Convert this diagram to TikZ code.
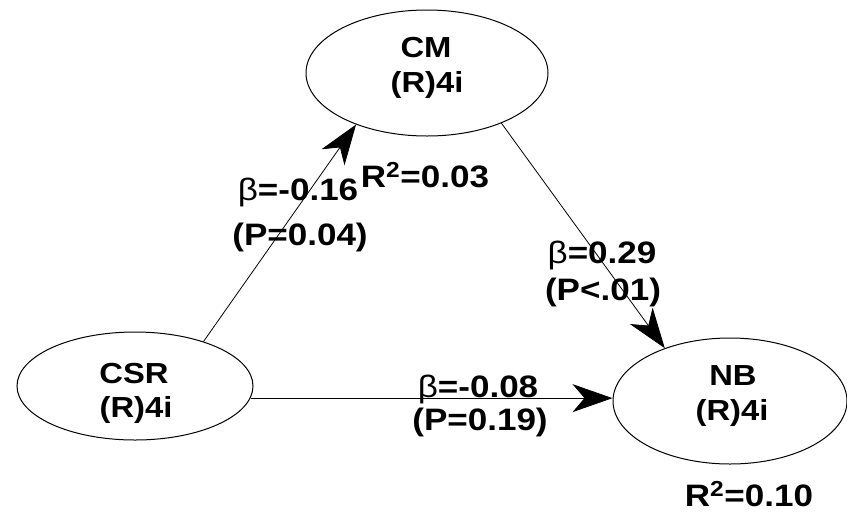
\documentclass[tikz,border=0pt]{standalone}
\usepackage{fontspec}
\usepackage{graphicx}
\setmainfont{Liberation Sans}
\usetikzlibrary{shapes.geometric,arrows.meta}
\newcommand{\stretchtxt}[1]{\scalebox{1.13}[1]{#1}}
\begin{document}
\begin{tikzpicture}[x=1pt,y=-1pt,
  lat/.style={ellipse, draw, line width=1pt, inner sep=0pt},
  txt/.style={anchor=base, inner sep=0pt, font=\fontsize{29}{34}\selectfont\bfseries},
  lbl/.style={anchor=base, inner sep=0pt, font=\fontsize{31}{34}\selectfont\bfseries},
  conn/.style={line width=0.8pt, -{Stealth[length=40pt,width=28pt,inset=12pt]}}]
\useasboundingbox[fill=white] (0,0) rectangle (847,512);
% latent variables
\node[lat, minimum width=242pt, minimum height=126pt] (cm) at (427,73) {};
\node[lat, minimum width=236pt, minimum height=108pt] (csr) at (135,386) {};
\node[lat, minimum width=234pt, minimum height=126pt] (nb) at (730,401) {};
% texts in ellipses
\node[txt] (cm1) at (426,57) {\stretchtxt{CM}};
\node[txt] (cm2) at (427,92) {\stretchtxt{(R)4i}};
\node[txt] (csr1) at (134,383) {\stretchtxt{CSR}};
\node[txt] (csr2) at (136,417) {\stretchtxt{(R)4i}};
\node[txt] (nb1) at (733,385) {\stretchtxt{NB}};
\node[txt] (nb2) at (732,420) {\stretchtxt{(R)4i}};
% connectors
\draw[conn] (csr.33.3) -- (cm.216.1);
\draw[conn] (cm.-34.4) -- (nb.141.3);
\coordinate (hstart) at (csr.-6);
\draw[conn] (hstart) -- (hstart -| nb.west);
% labels
\node[lbl] (b1) at (298,200) {\stretchtxt{{\mdseries β}=-0.16}};
\node[lbl] (p1) at (300,245) {\stretchtxt{(P=0.04)}};
\node[lbl] (r1) at (425,187) {\stretchtxt{R\textsuperscript{2}=0.03}};
\node[lbl] (b2) at (602,263) {\stretchtxt{{\mdseries β}=0.29}};
\node[lbl] (p2) at (603,300) {\stretchtxt{(P<.01)}};
\node[lbl] (b3) at (478,397) {\stretchtxt{{\mdseries β}=-0.08}};
\node[lbl] (p3) at (480,430) {\stretchtxt{(P=0.19)}};
\node[lbl] (r2) at (749,506) {\stretchtxt{R\textsuperscript{2}=0.10}};
\end{tikzpicture}
\end{document}
